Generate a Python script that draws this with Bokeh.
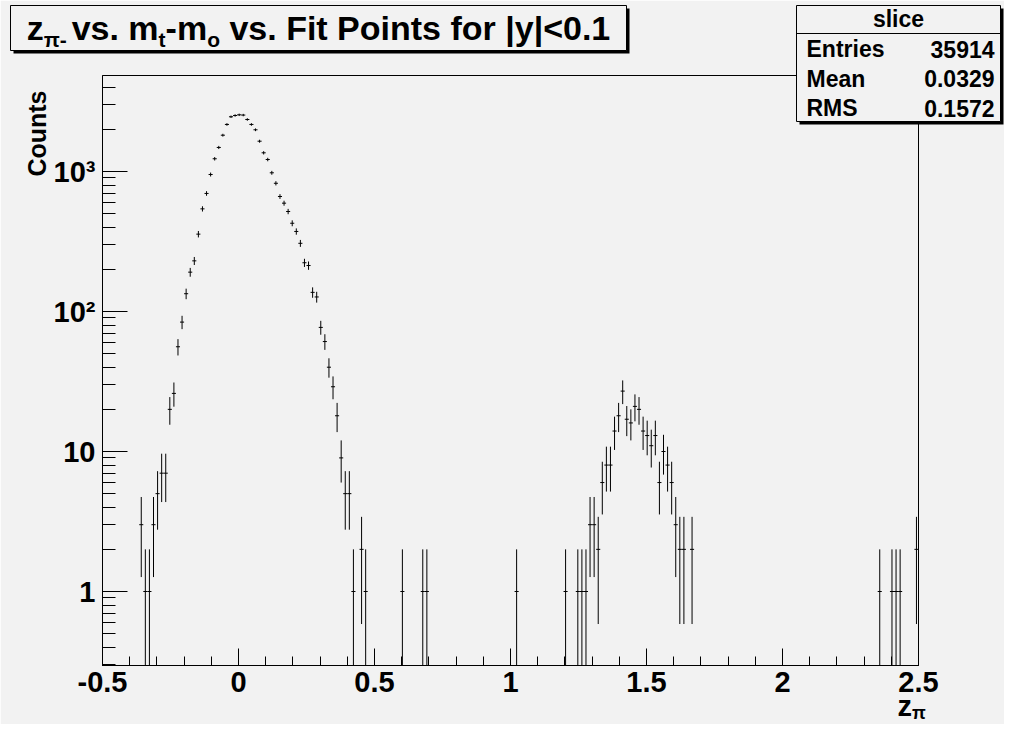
import numpy as np
from math import pi
from bokeh.plotting import figure
from bokeh.layouts import column
from bokeh.models import Range1d, FixedTicker, BasicTickFormatter
from bokeh.core.properties import value
from bokeh.embed import file_html
from bokeh.resources import INLINE

# ---------------- data ----------------
x_centers = [-0.3575, -0.3425, -0.3275, -0.3125, -0.2975, -0.2825, -0.2675, -0.2525,
             -0.2375, -0.2225, -0.2075, -0.1925, -0.1775, -0.1625, -0.1475, -0.1325,
             -0.1175, -0.1025, -0.0875, -0.0725, -0.0575, -0.0425, -0.0275, -0.0125,
             0.0025, 0.0175, 0.0325, 0.0475, 0.0625, 0.0775, 0.0925, 0.1075,
             0.1225, 0.1375, 0.1525, 0.1675, 0.1825, 0.1975, 0.2125, 0.2275,
             0.2425, 0.2575, 0.2725, 0.2875, 0.3025, 0.3175, 0.3325, 0.3475,
             0.3625, 0.3775, 0.3925, 0.4075, 0.4225, 0.4525, 0.4675, 0.6025,
             0.6775, 0.6925, 1.0225, 1.2025, 1.2475, 1.2625, 1.2775, 1.2925,
             1.3075, 1.3225, 1.3375, 1.3525, 1.3675, 1.3825, 1.3975, 1.4125,
             1.4275, 1.4425, 1.4575, 1.4725, 1.4875, 1.5025, 1.5175, 1.5325,
             1.5475, 1.5625, 1.5775, 1.5925, 1.6075, 1.6225, 1.6375, 1.6675,
             2.3575, 2.4025, 2.4175, 2.4325, 2.4925]
counts = [3, 1, 1, 3, 5, 7, 7, 20,
          26, 56, 84, 134, 191, 230, 357, 541,
          697, 952, 1233, 1485, 1817, 2168, 2460, 2512,
          2540, 2530, 2352, 2168, 1986, 1646, 1360, 1218,
          979, 824, 663, 594, 518, 427, 373, 307,
          223, 213, 137, 127, 77, 61, 40, 29,
          18, 9, 5, 5, 1, 2, 1, 1,
          1, 1, 1, 1, 1, 1, 1, 3,
          3, 2, 6, 8, 8, 14, 18, 27,
          17, 16, 21, 20, 14, 13, 11, 13,
          6, 10, 8, 6, 3, 2, 2, 2,
          1, 1, 1, 1, 2]
bin_width = 0.015

x_ticks = [-0.5, 0.0, 0.5, 1.0, 1.5, 2.0, 2.5]
x_tick_labels = ["-0.5", "0", "0.5", "1", "1.5", "2", "2.5"]
y_ticks = [1, 10, 100, 1000]
y_tick_labels = ["1", "10", "10\u00b2", "10\u00b3"]

title_parts = [("z", False), ("\u03c0-", True), (" vs. m", False), ("t", True),
               ("-m", False), ("o", True), (" vs. Fit Points for |y|<0.1", False)]
x_title = [("z", False), ("\u03c0", True)]
y_title = "Counts"
stats_header = "slice"
stats_names = ["Entries", "Mean", "RMS"]
stats_values = ["35914", "0.0329", "0.1572"]

# ---------------- layout (pixels of the picture) ----------------
W, H = 1004, 724
FRAME_L, FRAME_R, FRAME_T, FRAME_B = 102, 918, 75, 665
X_MIN, X_MAX = -0.5, 2.5
Y_ONE_PX, Y_DEC_PX = 591.0, 140.0
Y_MIN = 10 ** ((Y_ONE_PX - FRAME_B) / Y_DEC_PX)
Y_MAX = 10 ** ((Y_ONE_PX - FRAME_T) / Y_DEC_PX)

FONT = "Liberation Sans"
BG = "#f2f2f2"
MID = 0.35  # distance baseline -> visual middle, in em
ADV = {' ': 278, 'z': 500, '\u03c0': 549, '-': 333, 'v': 556, 's': 556, '.': 278, 'm': 889,
       't': 333, 'F': 611, 'i': 278, 'P': 667, 'o': 611, 'n': 611, 'f': 333, 'r': 389,
       '|': 280, 'y': 556, '<': 584, '0': 556, '1': 556}


def tw(s, size):
    return sum(ADV.get(ch, 556) for ch in s) * size / 1000.0


# ---------------- main histogram figure ----------------
p = figure(width=W, height=H,
           x_range=Range1d(X_MIN, X_MAX), y_range=Range1d(Y_MIN, Y_MAX),
           y_axis_type="log", output_backend="svg", toolbar_location=None,
           min_border_left=FRAME_L, min_border_right=W - FRAME_R,
           min_border_top=FRAME_T, min_border_bottom=H - FRAME_B)
p.frame_align = False
p.title.visible = False
p.background_fill_color = BG
p.border_fill_color = BG
p.outline_line_color = "black"
p.outline_line_width = 1
p.xgrid.visible = False
p.ygrid.visible = False

xa = p.xaxis[0]
xa.ticker = FixedTicker(ticks=x_ticks,
                        minor_ticks=[round(-0.5 + 0.1 * k, 2) for k in range(31)])
xa.formatter = BasicTickFormatter()
xa.major_label_overrides = {t: l for t, l in zip(x_ticks, x_tick_labels)}
xa.major_tick_in = 17
xa.minor_tick_in = 9

ya = p.yaxis[0]
minor_y = []
for dec in [0.1, 1, 10, 100, 1000]:
    for k in range(2, 10):
        v = k * dec
        if Y_MIN <= v <= Y_MAX:
            minor_y.append(v)
ya.ticker = FixedTicker(ticks=y_ticks, minor_ticks=minor_y)
ya.formatter = BasicTickFormatter()
ya.major_label_overrides = {t: l for t, l in zip(y_ticks, y_tick_labels)}
ya.major_tick_in = 25
ya.minor_tick_in = 13

for ax in (xa, ya):
    ax.axis_line_color = "black"
    ax.major_tick_out = 0
    ax.minor_tick_out = 0
    ax.major_tick_line_color = "black"
    ax.minor_tick_line_color = "black"
    ax.major_label_text_font = FONT
    ax.major_label_text_font_style = "bold"
    ax.major_label_text_font_size = "29px"
    ax.major_label_text_color = "black"
xa.major_label_standoff = 6
ya.major_label_standoff = 7

xc = np.array(x_centers, dtype=float)
c = np.array(counts, dtype=float)
err = np.sqrt(c)
lo = np.where(c - err > 0, c - err, Y_MIN)
hi = c + err
p.segment(x0=xc, y0=lo, x1=xc, y1=hi, line_color="black", line_width=1)
p.segment(x0=xc - bin_width / 2, y0=c, x1=xc + bin_width / 2, y1=c,
          line_color="black", line_width=1)

# ---------------- transparent overlay for the boxes and titles ----------------
q = figure(width=W, height=H, x_range=Range1d(0, W), y_range=Range1d(0, H),
           output_backend="svg", toolbar_location=None,
           x_axis_location=None, y_axis_location=None, min_border=0)
q.frame_align = False
q.title.visible = False
q.background_fill_color = None
q.border_fill_color = None
q.outline_line_color = None
q.xgrid.visible = False
q.ygrid.visible = False
q.styles = {"position": "absolute", "left": "0px", "top": "0px"}


def box(l, t, r, b, fill, line=None):
    q.quad(left=[l], right=[r], top=[H - t], bottom=[H - b], fill_color=fill,
           line_color=line, line_width=1)


def text(px, base, s, size, align="left", angle=0.0):
    # base = baseline position (page px); rendered with a middle anchor
    q.text(x=[px], y=[H - (base - MID * size)], text=[s], text_font=value(FONT),
           text_font_style="bold", text_font_size=value(f"{size}px"),
           text_color="black", text_align=align, text_baseline="middle", angle=angle)


def rich(x0, base, parts, size, sub_size, sub_shift):
    x = x0
    for s, sub in parts:
        sz = sub_size if sub else size
        if s.startswith(" "):
            x += tw(" ", sz)
            s = s.lstrip(" ")
        text(x, base + (sub_shift if sub else 0), s, sz)
        x += tw(s, sz)


# title box with shadow
box(13, 8, 629, 53, "black")
box(10, 5, 626, 50, BG, "black")
T_SIZE, T_SUB = 34, 21
total = sum(tw(s, T_SUB if sub else T_SIZE) for s, sub in title_parts)
rich(318 - total / 2, 39, title_parts, T_SIZE, T_SUB, 7)

# statistics box with shadow
box(799, 8, 1003, 124, "black")
box(796, 5, 1000, 121, BG, "black")
q.segment(x0=[796], y0=[H - 33], x1=[1000], y1=[H - 33], line_color="black", line_width=1)
text(898, 27, stats_header, 23, align="center")
for i, (n, v) in enumerate(zip(stats_names, stats_values)):
    base = 57 + 29.5 * i
    text(806, base, n, 23)
    text(994, base, v, 23, align="right")

# axis titles
rich(897, 716, x_title, 29, 18, 3)
q.text(x=[36], y=[H - 90], text=[y_title], text_font=value(FONT), text_font_style="bold",
       text_font_size=value("25px"), text_color="black", text_align="right",
       text_baseline="middle", angle=pi / 2)

page = column(p, q, width=W, height=H)
page.styles = {"position": "relative"}

open("out.html", "w").write(file_html(page, INLINE))
